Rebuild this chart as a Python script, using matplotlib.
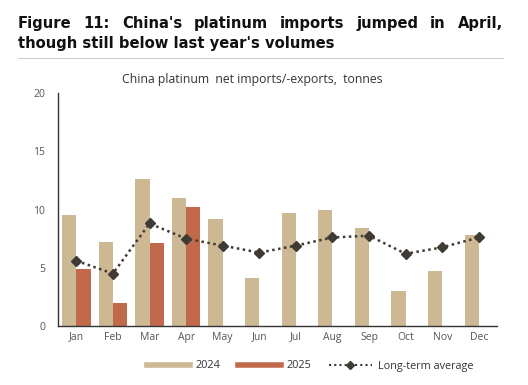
# China platinum net imports chart

import numpy as np
import matplotlib
matplotlib.use('Agg')
import matplotlib.pyplot as plt
from matplotlib.lines import Line2D

months = ['Jan', 'Feb', 'Mar', 'Apr', 'May', 'Jun', 'Jul', 'Aug', 'Sep', 'Oct', 'Nov', 'Dec']
imports_2024 = [9.5, 7.2, 12.6, 11.0, 9.2, 4.1, 9.7, 10.0, 8.4, 3.0, 4.75, 7.8]
imports_2025 = [4.9, 2.0, 7.1, 10.2]
long_term_avg = [5.6, 4.5, 8.8, 7.5, 6.9, 6.3, 6.9, 7.6, 7.75, 6.2, 6.75, 7.6]
yticks = [0, 5, 10, 15, 20]

title_line1 = "Figure 11: China's platinum imports jumped in April,"
title_line2 = "though still below last year's volumes"
subtitle = "China platinum  net imports/-exports,  tonnes"

c2024 = '#CDB894'
c2025 = '#C2694C'
cavg = '#3F3A33'
grey = '#555555'

W, H = 528, 385
fig = plt.figure(figsize=(W / 100, H / 100), dpi=100)
plt.rcParams['font.family'] = ['Open Sans', 'DejaVu Sans']

# title, justified on the first line
tfont = dict(family='DejaVu Sans', fontweight='bold', fontsize=10.6, color='#111111')
x_left, x_right = 18 / W, 503 / W
words = title_line1.split()
fig.canvas.draw()
renderer = fig.canvas.get_renderer()
widths = []
for w in words:
    t = fig.text(0, 0, w, **tfont)
    bb = t.get_window_extent(renderer)
    widths.append(bb.width / W)
    t.remove()
gap = (x_right - x_left - sum(widths)) / (len(words) - 1)
x = x_left
for w, wd in zip(words, widths):
    fig.text(x, 1 - 28 / H, w, ha='left', va='baseline', **tfont)
    x += wd + gap
fig.text(x_left, 1 - 48 / H, title_line2, ha='left', va='baseline', **tfont)

fig.add_artist(Line2D([x_left, x_right], [1 - 57.5 / H, 1 - 57.5 / H], color='#cccccc', lw=0.8))

fig.text(252 / W, 1 - 80 / H, subtitle, ha='center', va='center', fontsize=8.8, color='#333333')

# axes
ax = fig.add_axes([57.7 / W, 1 - 326 / H, (496.7 - 57.7) / W, (326 - 93) / H])
x = np.arange(len(months))
bw = 0.39
ax.bar(x - bw / 2, imports_2024, width=bw, color=c2024, label='2024')
ax.bar(x[:len(imports_2025)] + bw / 2, imports_2025, width=bw, color=c2025, label='2025')
ax.plot(x, long_term_avg, linestyle=(0, (1, 1.4)), lw=1.8, color=cavg, marker='D',
        markersize=5, label='Long-term average')

ax.set_xlim(-0.51, 11.49)
ax.set_ylim(0, 20)
ax.set_yticks(yticks)
ax.set_xticks(x)
ax.set_xticklabels(months)
ax.tick_params(axis='both', length=0, labelsize=7.5, labelcolor=grey)
ax.tick_params(axis='y', pad=9)
ax.tick_params(axis='x', pad=4)
for s in ['top', 'right']:
    ax.spines[s].set_visible(False)
for s in ['left', 'bottom']:
    ax.spines[s].set_color('#333333')
    ax.spines[s].set_linewidth(1.0)

handles = [Line2D([], [], color=c2024, lw=4),
           Line2D([], [], color=c2025, lw=4),
           Line2D([], [], color=cavg, lw=1.5, linestyle=(0, (1, 1.5)), marker='D', markersize=4)]
fig.legend(handles, ['2024', '2025', 'Long-term average'], loc='center',
           bbox_to_anchor=(310 / W, 1 - 366 / H), ncol=3, frameon=False,
           fontsize=7.8, labelcolor='#333333', handlelength=4.0, columnspacing=1.6,
           handletextpad=0.5)

fig.savefig('out.png', dpi=100)
